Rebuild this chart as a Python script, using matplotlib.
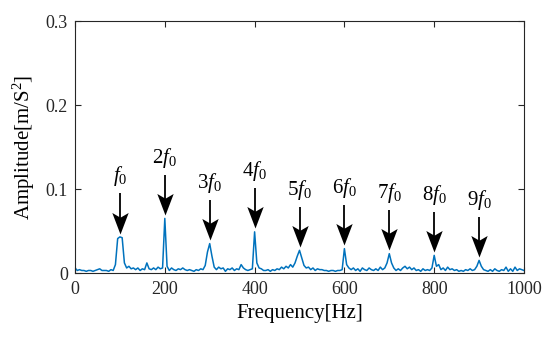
import numpy as np
import matplotlib
matplotlib.use("Agg")
import matplotlib.pyplot as plt
from matplotlib.path import Path

plt.rcParams['font.family'] = ['Liberation Serif', 'DejaVu Serif']
plt.rcParams['mathtext.fontset'] = 'custom'
plt.rcParams['mathtext.rm'] = 'Liberation Serif'
plt.rcParams['mathtext.it'] = 'Liberation Serif:italic'

# Frequency axis step 5 Hz, 0..1000
freq_start, freq_step = 0, 5
amplitude = [
    # 0-95
    0.006, 0.003, 0.004, 0.003, 0.003, 0.002, 0.003, 0.003, 0.002, 0.003,
    0.004, 0.005, 0.003, 0.003, 0.003, 0.002, 0.004, 0.003, 0.010, 0.041,
    # 100-195
    0.043, 0.042, 0.012, 0.006, 0.008, 0.005, 0.006, 0.004, 0.006, 0.003,
    0.005, 0.004, 0.012, 0.005, 0.004, 0.006, 0.004, 0.007, 0.005, 0.006,
    # 200-295
    0.065, 0.008, 0.003, 0.006, 0.004, 0.003, 0.005, 0.004, 0.006, 0.004,
    0.003, 0.004, 0.003, 0.002, 0.004, 0.003, 0.005, 0.004, 0.009, 0.025,
    # 300-395
    0.035, 0.020, 0.007, 0.004, 0.007, 0.005, 0.006, 0.002, 0.005, 0.004,
    0.006, 0.003, 0.005, 0.004, 0.010, 0.006, 0.004, 0.003, 0.004, 0.005,
    # 400-495
    0.049, 0.012, 0.006, 0.005, 0.003, 0.003, 0.004, 0.002, 0.004, 0.003,
    0.005, 0.004, 0.007, 0.005, 0.008, 0.006, 0.010, 0.007, 0.012, 0.020,
    # 500-595
    0.027, 0.018, 0.009, 0.006, 0.007, 0.004, 0.006, 0.003, 0.005, 0.004,
    0.004, 0.003, 0.003, 0.002, 0.003, 0.003, 0.002, 0.003, 0.003, 0.004,
    # 600-695
    0.029, 0.010, 0.006, 0.004, 0.006, 0.003, 0.005, 0.002, 0.006, 0.004,
    0.003, 0.006, 0.004, 0.003, 0.005, 0.003, 0.007, 0.004, 0.006, 0.012,
    # 700-795
    0.023, 0.012, 0.006, 0.003, 0.005, 0.003, 0.006, 0.008, 0.005, 0.007,
    0.004, 0.006, 0.003, 0.004, 0.002, 0.005, 0.003, 0.004, 0.003, 0.006,
    # 800-895
    0.021, 0.008, 0.010, 0.004, 0.006, 0.003, 0.007, 0.004, 0.005, 0.003,
    0.004, 0.002, 0.003, 0.002, 0.004, 0.003, 0.005, 0.003, 0.004, 0.008,
    # 900-995
    0.015, 0.008, 0.004, 0.003, 0.002, 0.004, 0.002, 0.005, 0.003, 0.002,
    0.004, 0.003, 0.007, 0.002, 0.005, 0.002, 0.007, 0.003, 0.005, 0.004,
    # 1000
    0.003,
]
freq = freq_start + freq_step * np.arange(len(amplitude))

harmonic_labels = ['$f_0$', '$2f_0$', '$3f_0$', '$4f_0$', '$5f_0$',
                   '$6f_0$', '$7f_0$', '$8f_0$', '$9f_0$']
harmonic_freqs = [100, 200, 300, 400, 500, 600, 700, 800, 900]

xticks = [0, 200, 400, 600, 800, 1000]
yticks = [0, 0.1, 0.2, 0.3]
ytick_labels = ['0', '0.1', '0.2', '0.3']

fig = plt.figure(figsize=(5.5, 3.41), dpi=100)
ax = fig.add_axes([0.1364, 0.1994, 0.8163, 0.739])
ax.plot(freq, amplitude, color='#0072BD', lw=1.1)

# barbed arrow head marker, tip at origin, pointing down
head = Path([(0, 0), (-0.38, 1.0), (0, 0.78), (0.38, 1.0), (0, 0)],
            [Path.MOVETO, Path.LINETO, Path.LINETO, Path.LINETO, Path.CLOSEPOLY])

amp_arr = np.array(amplitude)
for lab, hf in zip(harmonic_labels, harmonic_freqs):
    peak = amp_arr[np.argmin(np.abs(freq - hf))]
    tip = peak + 0.004
    tail = tip + 0.048
    ax.plot([hf, hf], [tail, tip + 0.012], color='black', lw=1.3,
            solid_capstyle='butt')
    ax.plot([hf], [tip], marker=head, markersize=31, color='black',
            markeredgewidth=0, linestyle='none')
    ax.text(hf, tail + 0.006, lab, ha='center', va='bottom', fontsize=15)

ax.set_xlim(0, 1000)
ax.set_ylim(0, 0.3)
ax.set_xticks(xticks)
ax.set_yticks(yticks)
ax.set_yticklabels(ytick_labels)
ax.tick_params(direction='in', top=True, right=True, length=4, width=0.8,
               labelsize=13, colors='#262626', pad=6)
ax.tick_params(axis='y', pad=5)
for s in ax.spines.values():
    s.set_color('#262626')
    s.set_linewidth(0.8)
ax.set_xlabel('Frequency[Hz]', fontsize=15, labelpad=4)
ax.set_ylabel('Amplitude[m/S$^2$]', fontsize=15, labelpad=6)

fig.savefig('out.png', dpi=100)
